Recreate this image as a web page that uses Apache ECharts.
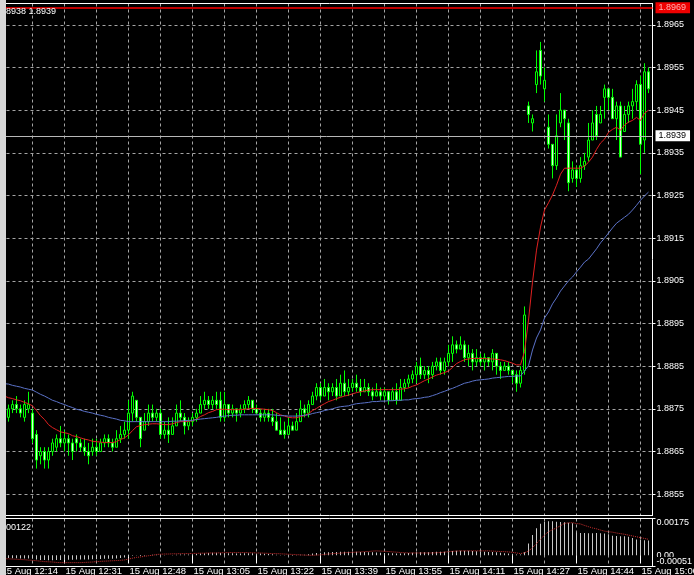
<!DOCTYPE html>
<html><head><meta charset="utf-8">
<script src="https://cdn.jsdelivr.net/npm/echarts@6/dist/echarts.min.js"></script>
<style>html,body{margin:0;padding:0;background:#000;}#c{width:694px;height:575px;}</style>
</head><body><div id="c"></div>
<script>
const priceTicks = [1.8855,1.8865,1.8875,1.8885,1.8895,1.8905,1.8915,1.8925,1.8935,1.8945,1.8955,1.8965];
const timeLabels = ['15 Aug 12:14','15 Aug 12:31','15 Aug 12:48','15 Aug 13:05','15 Aug 13:22','15 Aug 13:39','15 Aug 13:55','15 Aug 14:11','15 Aug 14:27','15 Aug 14:44','15 Aug 15:00'];
const macdTicks = [-0.00051, 0.00175];
const macdZero = [0];
const askPrice = 1.8969;
const bidPrice = 1.8939;
const headerText = '8938 1.8939';
const indicatorText = '00122';

const openP = [
1.8877,1.8876,1.8873,1.8875,1.8876,1.8875,1.8873,1.8875,1.8874,1.8869,
1.8864,1.8865,1.8863,1.8865,1.8866,1.8868,1.8867,1.8868,1.8867,1.8868,
1.8867,1.8866,1.8865,1.8865,1.8866,1.8865,1.8867,1.8868,1.8867,1.8866,
1.8868,1.8869,1.8870,1.8874,1.8877,1.8873,1.8870,1.8872,1.8874,1.8873,
1.8874,1.8869,1.8870,1.8869,1.8871,1.8874,1.8873,1.8871,1.8872,1.8873,
1.8874,1.8876,1.8877,1.8876,1.8877,1.8877,1.8873,1.8876,1.8874,1.8875,
1.8874,1.8875,1.8876,1.8877,1.8875,1.8874,1.8873,1.8874,1.8873,1.8872,
1.8870,1.8870,1.8869,1.8871,1.8870,1.8872,1.8875,1.8874,1.8876,1.8878,
1.8880,1.8878,1.8880,1.8879,1.8880,1.8878,1.8881,1.8879,1.8880,1.8881,
1.8880,1.8879,1.8880,1.8879,1.8878,1.8879,1.8878,1.8879,1.8877,1.8879,
1.8877,1.8880,1.8881,1.8882,1.8883,1.8885,1.8883,1.8884,1.8883,1.8885,
1.8886,1.8884,1.8886,1.8888,1.8890,1.8889,1.8890,1.8887,1.8888,1.8886,
1.8887,1.8886,1.8887,1.8886,1.8888,1.8885,1.8884,1.8885,1.8884,1.8883,
1.8881,1.8884,1.8946,1.8942,1.8951,1.8959,1.8950,1.8941,1.8937,1.8932,
1.8942,1.8945,1.8942,1.8929,1.8931,1.8929,1.8932,1.8934,1.8938,1.8944,
1.8942,1.8948,1.8950,1.8948,1.8943,1.8946,1.8940,1.8944,1.8946,1.8947,
1.8951,1.8938,1.8954];
const closeP = [
1.8876,1.8873,1.8875,1.8876,1.8875,1.8874,1.8876,1.8876,1.8868,1.8863,
1.8865,1.8863,1.8865,1.8867,1.8868,1.8867,1.8868,1.8867,1.8865,1.8867,
1.8866,1.8865,1.8864,1.8866,1.8865,1.8867,1.8868,1.8867,1.8866,1.8868,
1.8869,1.8870,1.8874,1.8878,1.8873,1.8868,1.8872,1.8874,1.8873,1.8874,
1.8869,1.8870,1.8869,1.8871,1.8874,1.8873,1.8871,1.8872,1.8873,1.8874,
1.8876,1.8877,1.8876,1.8877,1.8876,1.8873,1.8876,1.8874,1.8875,1.8874,
1.8875,1.8876,1.8877,1.8875,1.8874,1.8873,1.8874,1.8873,1.8872,1.8870,
1.8869,1.8869,1.8871,1.8870,1.8872,1.8875,1.8874,1.8876,1.8878,1.8880,
1.8878,1.8880,1.8879,1.8880,1.8878,1.8881,1.8879,1.8880,1.8881,1.8880,
1.8879,1.8880,1.8879,1.8878,1.8879,1.8878,1.8879,1.8877,1.8879,1.8877,
1.8880,1.8881,1.8882,1.8883,1.8885,1.8883,1.8884,1.8883,1.8885,1.8886,
1.8884,1.8886,1.8888,1.8890,1.8889,1.8890,1.8887,1.8888,1.8886,1.8887,
1.8886,1.8887,1.8886,1.8888,1.8885,1.8884,1.8885,1.8884,1.8883,1.8881,
1.8884,1.8897,1.8944,1.8943,1.8954,1.8953,1.8952,1.8937,1.8932,1.8939,
1.8945,1.8943,1.8928,1.8931,1.8929,1.8932,1.8933,1.8938,1.8942,1.8939,
1.8944,1.8950,1.8948,1.8943,1.8946,1.8934,1.8944,1.8946,1.8947,1.8951,
1.8937,1.8954,1.8950];
const lowP = [
1.8875,1.8872,1.8872,1.8874,1.8874,1.8873,1.8872,1.8874,1.8867,1.8861,
1.8862,1.8861,1.8861,1.8864,1.8865,1.8866,1.8865,1.8864,1.8863,1.8865,
1.8865,1.8864,1.8862,1.8864,1.8864,1.8865,1.8866,1.8866,1.8865,1.8866,
1.8867,1.8868,1.8868,1.8872,1.8872,1.8866,1.8870,1.8871,1.8872,1.8872,
1.8868,1.8868,1.8867,1.8869,1.8871,1.8872,1.8869,1.8870,1.8871,1.8872,
1.8874,1.8875,1.8875,1.8875,1.8875,1.8872,1.8872,1.8873,1.8873,1.8872,
1.8873,1.8874,1.8875,1.8874,1.8874,1.8872,1.8872,1.8872,1.8871,1.8870,
1.8869,1.8868,1.8869,1.8870,1.8870,1.8872,1.8873,1.8873,1.8876,1.8877,
1.8877,1.8878,1.8877,1.8878,1.8877,1.8878,1.8878,1.8878,1.8879,1.8879,
1.8878,1.8879,1.8878,1.8877,1.8878,1.8877,1.8877,1.8876,1.8877,1.8876,
1.8877,1.8879,1.8880,1.8881,1.8881,1.8882,1.8882,1.8881,1.8882,1.8884,
1.8883,1.8883,1.8885,1.8886,1.8888,1.8889,1.8886,1.8885,1.8884,1.8885,
1.8885,1.8884,1.8885,1.8884,1.8883,1.8882,1.8884,1.8883,1.8881,1.8879,
1.8880,1.8883,1.8942,1.8940,1.8949,1.8951,1.8947,1.8936,1.8929,1.8931,
1.8941,1.8938,1.8926,1.8928,1.8927,1.8928,1.8931,1.8933,1.8938,1.8938,
1.8942,1.8943,1.8945,1.8943,1.8938,1.8934,1.8940,1.8942,1.8943,1.8945,
1.8930,1.8935,1.8949];
const highP = [
1.8878,1.8877,1.8876,1.8877,1.8878,1.8876,1.8877,1.8879,1.8875,1.8870,
1.8866,1.8866,1.8866,1.8868,1.8869,1.8871,1.8870,1.8869,1.8868,1.8869,
1.8868,1.8868,1.8867,1.8868,1.8868,1.8868,1.8869,1.8869,1.8868,1.8870,
1.8871,1.8872,1.8877,1.8879,1.8877,1.8873,1.8874,1.8876,1.8876,1.8875,
1.8875,1.8872,1.8873,1.8873,1.8876,1.8877,1.8874,1.8873,1.8874,1.8875,
1.8878,1.8879,1.8878,1.8878,1.8879,1.8879,1.8879,1.8876,1.8876,1.8875,
1.8876,1.8877,1.8878,1.8877,1.8876,1.8875,1.8875,1.8875,1.8875,1.8874,
1.8873,1.8872,1.8873,1.8872,1.8874,1.8877,1.8876,1.8877,1.8879,1.8881,
1.8881,1.8882,1.8881,1.8881,1.8882,1.8883,1.8884,1.8882,1.8882,1.8883,
1.8882,1.8882,1.8881,1.8880,1.8881,1.8880,1.8880,1.8879,1.8880,1.8881,
1.8882,1.8882,1.8883,1.8884,1.8886,1.8887,1.8885,1.8885,1.8886,1.8887,
1.8887,1.8887,1.8890,1.8892,1.8891,1.8892,1.8891,1.8890,1.8889,1.8889,
1.8888,1.8888,1.8887,1.8889,1.8888,1.8886,1.8886,1.8886,1.8884,1.8884,
1.8885,1.8899,1.8947,1.8944,1.8959,1.8961,1.8955,1.8944,1.8937,1.8944,
1.8949,1.8945,1.8943,1.8933,1.8932,1.8934,1.8935,1.8942,1.8945,1.8946,
1.8946,1.8951,1.8950,1.8950,1.8947,1.8947,1.8946,1.8947,1.8950,1.8952,
1.8953,1.8956,1.8955];
const maFast = [
1.88781,1.88780,1.88776,1.88774,1.88771,1.88769,1.88765,1.88762,1.88757,1.88746,
1.88734,1.88725,1.88713,1.88706,1.88701,1.88696,1.88694,1.88692,1.88687,1.88685,
1.88682,1.88679,1.88677,1.88674,1.88673,1.88672,1.88671,1.88671,1.88671,1.88673,
1.88678,1.88682,1.88689,1.88699,1.88708,1.88711,1.88713,1.88714,1.88715,1.88715,
1.88714,1.88713,1.88713,1.88715,1.88718,1.88720,1.88720,1.88721,1.88722,1.88726,
1.88732,1.88736,1.88741,1.88744,1.88748,1.88749,1.88749,1.88748,1.88748,1.88748,
1.88748,1.88749,1.88750,1.88751,1.88751,1.88750,1.88749,1.88748,1.88746,1.88741,
1.88736,1.88733,1.88730,1.88729,1.88729,1.88732,1.88734,1.88739,1.88746,1.88751,
1.88757,1.88762,1.88767,1.88770,1.88774,1.88777,1.88780,1.88782,1.88785,1.88788,
1.88790,1.88792,1.88794,1.88795,1.88795,1.88795,1.88795,1.88795,1.88795,1.88795,
1.88796,1.88797,1.88799,1.88803,1.88806,1.88811,1.88816,1.88820,1.88825,1.88829,
1.88832,1.88835,1.88839,1.88847,1.88856,1.88861,1.88865,1.88867,1.88868,1.88868,
1.88868,1.88868,1.88867,1.88867,1.88866,1.88865,1.88863,1.88860,1.88857,1.88853,
1.88853,1.88884,1.88958,1.89047,1.89122,1.89176,1.89216,1.89233,1.89251,1.89274,
1.89300,1.89314,1.89314,1.89314,1.89314,1.89314,1.89319,1.89328,1.89340,1.89358,
1.89373,1.89382,1.89398,1.89405,1.89410,1.89403,1.89415,1.89422,1.89426,1.89433,
1.89426,1.89443,1.89450];
const maSlow = [
1.88811,1.88809,1.88808,1.88805,1.88803,1.88801,1.88798,1.88796,1.88794,1.88789,
1.88784,1.88780,1.88775,1.88770,1.88767,1.88763,1.88760,1.88756,1.88753,1.88749,
1.88747,1.88744,1.88742,1.88740,1.88737,1.88735,1.88733,1.88730,1.88728,1.88726,
1.88723,1.88722,1.88720,1.88720,1.88720,1.88720,1.88720,1.88720,1.88720,1.88720,
1.88720,1.88720,1.88720,1.88721,1.88721,1.88722,1.88722,1.88723,1.88723,1.88725,
1.88726,1.88727,1.88728,1.88729,1.88730,1.88732,1.88733,1.88734,1.88735,1.88735,
1.88736,1.88736,1.88736,1.88736,1.88736,1.88736,1.88736,1.88736,1.88736,1.88735,
1.88734,1.88734,1.88733,1.88733,1.88733,1.88734,1.88735,1.88736,1.88739,1.88741,
1.88743,1.88746,1.88748,1.88750,1.88753,1.88755,1.88756,1.88757,1.88760,1.88762,
1.88763,1.88764,1.88765,1.88767,1.88767,1.88768,1.88768,1.88769,1.88769,1.88770,
1.88770,1.88771,1.88771,1.88773,1.88774,1.88775,1.88777,1.88778,1.88781,1.88784,
1.88788,1.88791,1.88795,1.88798,1.88802,1.88806,1.88810,1.88812,1.88815,1.88817,
1.88818,1.88819,1.88820,1.88822,1.88823,1.88824,1.88825,1.88826,1.88826,1.88827,
1.88827,1.88839,1.88851,1.88888,1.88916,1.88935,1.88963,1.88977,1.88996,1.89010,
1.89026,1.89038,1.89050,1.89059,1.89071,1.89082,1.89094,1.89101,1.89113,1.89125,
1.89139,1.89150,1.89162,1.89174,1.89185,1.89192,1.89199,1.89206,1.89216,1.89227,
1.89239,1.89249,1.89258];
const macdHist = [
-0.00012,-0.00012,-0.00013,-0.00014,-0.00014,-0.00015,-0.00015,-0.00015,-0.00017,-0.00020,
-0.00022,-0.00023,-0.00024,-0.00024,-0.00023,-0.00022,-0.00022,-0.00021,-0.00021,-0.00020,
-0.00020,-0.00020,-0.00020,-0.00019,-0.00019,-0.00018,-0.00017,-0.00016,-0.00016,-0.00015,
-0.00013,-0.00011,-0.00007,-0.00002,-0.00001,-0.00003,-0.00002,0.00000,0.00002,0.00003,
0.00002,0.00001,0.00000,0.00001,0.00003,0.00004,0.00004,0.00004,0.00005,0.00006,
0.00008,0.00010,0.00011,0.00012,0.00012,0.00011,0.00011,0.00010,0.00010,0.00009,
0.00009,0.00010,0.00010,0.00010,0.00009,0.00008,0.00007,0.00006,0.00005,0.00003,
0.00001,-0.00001,-0.00001,-0.00002,-0.00001,0.00002,0.00003,0.00005,0.00008,0.00011,
0.00012,0.00014,0.00015,0.00016,0.00016,0.00017,0.00017,0.00017,0.00017,0.00017,
0.00016,0.00016,0.00015,0.00014,0.00013,0.00012,0.00011,0.00010,0.00010,0.00009,
0.00009,0.00010,0.00011,0.00012,0.00014,0.00015,0.00015,0.00015,0.00016,0.00017,
0.00017,0.00017,0.00018,0.00020,0.00021,0.00022,0.00021,0.00021,0.00020,0.00019,
0.00018,0.00017,0.00016,0.00016,0.00014,0.00012,0.00010,0.00009,0.00007,0.00004,
0.00004,0.00015,0.00056,0.00096,0.00129,0.00150,0.00160,0.00162,0.00162,0.00160,
0.00158,0.00157,0.00155,0.00152,0.00108,0.00106,0.00106,0.00105,0.00105,0.00106,
0.00105,0.00104,0.00100,0.00093,0.00092,0.00090,0.00090,0.00088,0.00082,0.00075,
0.00074,0.00072,0.00070];
const macdSignal = [
-0.00015,-0.00016,-0.00017,-0.00018,-0.00019,-0.00020,-0.00021,-0.00023,-0.00024,-0.00026,
-0.00028,-0.00030,-0.00031,-0.00032,-0.00034,-0.00035,-0.00035,-0.00035,-0.00035,-0.00035,
-0.00035,-0.00034,-0.00033,-0.00032,-0.00030,-0.00029,-0.00028,-0.00027,-0.00026,-0.00025,
-0.00024,-0.00022,-0.00018,-0.00014,-0.00010,-0.00008,-0.00005,-0.00002,0.00000,0.00004,
0.00005,0.00006,0.00006,0.00007,0.00007,0.00008,0.00008,0.00008,0.00009,0.00009,
0.00010,0.00010,0.00011,0.00011,0.00011,0.00012,0.00012,0.00013,0.00013,0.00013,
0.00013,0.00013,0.00012,0.00012,0.00011,0.00011,0.00010,0.00009,0.00008,0.00008,
0.00007,0.00006,0.00005,0.00004,0.00003,0.00002,0.00001,0.00000,0.00000,0.00001,
0.00002,0.00004,0.00006,0.00008,0.00009,0.00010,0.00012,0.00013,0.00014,0.00015,
0.00016,0.00017,0.00018,0.00020,0.00021,0.00020,0.00019,0.00018,0.00016,0.00015,
0.00013,0.00012,0.00011,0.00011,0.00011,0.00011,0.00011,0.00011,0.00011,0.00012,
0.00013,0.00015,0.00017,0.00019,0.00020,0.00021,0.00021,0.00021,0.00021,0.00021,
0.00021,0.00021,0.00021,0.00020,0.00019,0.00018,0.00017,0.00016,0.00014,0.00011,
0.00008,0.00012,0.00020,0.00036,0.00056,0.00076,0.00096,0.00112,0.00122,0.00130,
0.00141,0.00152,0.00154,0.00155,0.00151,0.00149,0.00142,0.00136,0.00130,0.00126,
0.00120,0.00115,0.00112,0.00110,0.00106,0.00103,0.00100,0.00096,0.00092,0.00088,
0.00084,0.00080,0.00076];

// one category per bar slot, plus one empty slot before the right frame
const categories = [];
for (let i = 0; i <= openP.length; i++) categories.push(String(i));
const ohlc = openP.map((o, i) => [o, closeP[i], lowP[i], highP[i]]);

const FONT = 'Liberation Sans';
const gridLine = { color: '#a4a4a4', width: 1, type: [3, 3] };
const MACD_MIN = -0.00051, MACD_MAX = 0.00175;

const chart = echarts.init(document.getElementById('c'), null, { renderer: 'canvas' });
chart.setOption({
  backgroundColor: '#000000',
  animation: false,
  textStyle: { fontFamily: FONT },
  title: [
    { text: headerText, left: 6, top: 7, padding: 0,
      textStyle: { color: '#ffffff', fontSize: 9, fontWeight: 'normal', fontFamily: FONT } },
    { text: indicatorText, left: 6, top: 523, padding: 0,
      textStyle: { color: '#ffffff', fontSize: 9, fontWeight: 'normal', fontFamily: FONT } }
  ],
  grid: [
    { left: 0.5, top: 3.5, width: 652, height: 512, outerBoundsMode: 'none', containLabel: false },
    { left: 0.5, top: 518.5, width: 652, height: 47.5, outerBoundsMode: 'none', containLabel: false }
  ],
  xAxis: [
    { type: 'category', gridIndex: 0, data: categories, boundaryGap: false,
      axisLine: { show: false }, axisTick: { show: false },
      axisLabel: { show: false, showMinLabel: false, showMaxLabel: false },
      splitLine: { show: true, interval: 7, lineStyle: gridLine } },
    { type: 'category', gridIndex: 1, data: categories, boundaryGap: false,
      axisLine: { show: false },
      axisTick: { show: true, interval: 15, length: 8, lineStyle: { color: '#ffffff' } },
      axisLabel: { show: true, interval: 15, showMinLabel: true, showMaxLabel: true, align: 'left', padding: [0, 0, 0, 1], margin: 0,
        color: '#ffffff', fontSize: 9.5, fontFamily: FONT, hideOverlap: false,
        formatter: (v, i) => (i % 16 === 0 && timeLabels[i / 16]) ? timeLabels[i / 16] : '' },
      splitLine: { show: true, interval: 7, lineStyle: gridLine } }
  ],
  yAxis: [
    { type: 'value', gridIndex: 0, position: 'right', min: 1.8850, max: 1.8970,
      axisLine: { show: true, lineStyle: { color: '#ffffff', width: 1 } },
      axisTick: { show: true, length: 3, customValues: priceTicks, lineStyle: { color: '#ffffff' } },
      axisLabel: { show: true, customValues: priceTicks, margin: 4, color: '#ffffff', fontSize: 9, fontFamily: FONT,
        hideOverlap: false, formatter: v => v.toFixed(4) },
      splitLine: { show: true, lineStyle: gridLine } },
    { type: 'value', gridIndex: 1, position: 'right', min: MACD_MIN, max: MACD_MAX,
      axisLine: { show: false },
      axisTick: { show: false },
      axisLabel: { show: true, customValues: macdZero, margin: 4, color: '#ffffff', fontSize: 9, fontFamily: FONT,
        hideOverlap: false, formatter: () => '0.00' },
      splitLine: { show: false } },
    { type: 'value', gridIndex: 1, position: 'right', min: MACD_MIN, max: MACD_MAX,
      axisLine: { show: true, lineStyle: { color: '#ffffff', width: 1 } },
      axisTick: { show: true, length: 3, customValues: macdTicks, lineStyle: { color: '#ffffff' } },
      axisLabel: { show: true, customValues: macdTicks, margin: 4, color: '#ffffff', fontSize: 9, fontFamily: FONT,
        hideOverlap: false, showMinLabel: true, showMaxLabel: true,
        verticalAlignMinLabel: 'bottom', verticalAlignMaxLabel: 'top',
        backgroundColor: '#000000',
        formatter: v => v.toFixed(5) },
      splitLine: { show: false } }
  ],
  series: [
    { type: 'candlestick', xAxisIndex: 0, yAxisIndex: 0, data: ohlc, barWidth: 2, clip: false, silent: true,
      itemStyle: { color: '#000000', color0: '#d8ffd8', borderColor: '#00ff00', borderColor0: '#00ff00', borderWidth: 1 } },
    { type: 'line', xAxisIndex: 0, yAxisIndex: 0, data: maFast, showSymbol: false, silent: true, z: 3,
      lineStyle: { color: '#e02020', width: 1 },
      markLine: {
        silent: true, symbol: ['none', 'none'], animation: false, precision: 5,
        data: [
          { yAxis: askPrice, lineStyle: { color: '#ff0000', width: 1.5, type: 'solid' },
            label: { show: true, position: 'end', distance: 3, formatter: askPrice.toFixed(4),
              backgroundColor: '#ee0000', color: '#ffb0b0', padding: [1, 4, 1, 3], fontSize: 9, fontFamily: FONT } },
          { yAxis: bidPrice, lineStyle: { color: '#b8b8b8', width: 1, type: 'solid' },
            label: { show: true, position: 'end', distance: 3, formatter: bidPrice.toFixed(4),
              backgroundColor: '#ffffff', color: '#000000', padding: [1, 4, 1, 3], fontSize: 9, fontFamily: FONT } }
        ]
      } },
    { type: 'line', xAxisIndex: 0, yAxisIndex: 0, data: maSlow, showSymbol: false, silent: true, z: 3,
      lineStyle: { color: '#5b72c8', width: 1 } },
    { type: 'bar', xAxisIndex: 1, yAxisIndex: 1, data: macdHist, barWidth: 1, silent: true,
      itemStyle: { color: '#c8c8c8' } },
    { type: 'line', xAxisIndex: 1, yAxisIndex: 1, data: macdSignal, showSymbol: false, silent: true, z: 3,
      lineStyle: { color: '#d03030', width: 1, type: 'dotted' } }
  ],
  graphic: { elements: [
    { type: 'line', z: 90, shape: { x1: 6, y1: 3.5, x2: 653, y2: 3.5 }, style: { stroke: '#ffffff', lineWidth: 1 } },
    { type: 'line', z: 90, shape: { x1: 6, y1: 515.5, x2: 653, y2: 515.5 }, style: { stroke: '#ffffff', lineWidth: 1 } },
    { type: 'line', z: 90, shape: { x1: 6, y1: 518.5, x2: 653, y2: 518.5 }, style: { stroke: '#ffffff', lineWidth: 1 } },
    { type: 'line', z: 90, shape: { x1: 6, y1: 566.5, x2: 653, y2: 566.5 }, style: { stroke: '#ffffff', lineWidth: 1 } },
    { type: 'rect', z: 100, shape: { x: 0, y: 0, width: 6, height: 575 }, style: { fill: '#d6d6d6' } }
  ] }
});
</script>
</body></html>
